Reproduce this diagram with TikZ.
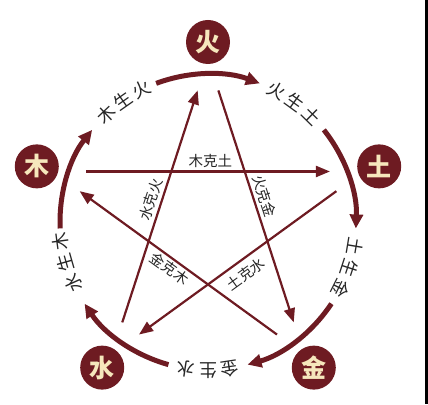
\documentclass[tikz,border=0pt]{standalone}
\usepackage{fontspec}
\newfontfamily\cjk{Noto Sans CJK SC}
\usetikzlibrary{arrows.meta,decorations.text}

\definecolor{wuxing}{HTML}{6E1B22}
\definecolor{cream}{HTML}{F6E7BC}
\newcommand\shengfont{\cjk\fontsize{18}{18}\selectfont}

\tikzset{
	element/.style={circle, fill=wuxing, minimum size=44pt, inner sep=0pt,
		text=cream, font=\cjk\bfseries\fontsize{25}{25}\selectfont},
	shengarc/.style={draw=wuxing, line width=5pt, -{Triangle[length=14pt,width=13pt]}},
	shengtext/.style={decorate, decoration={text along path, text align=center,
		raise=-6.5pt, text color=black!85}},
	kearrow/.style={draw=wuxing, line width=2.2pt, -{Triangle[length=14pt,width=11pt]}},
	kelabel/.style={font=\cjk\fontsize{14.5}{14.5}\selectfont, text=black!85, sloped, inner sep=2pt}
}

\begin{document}
\begin{tikzpicture}
	\useasboundingbox (-208pt,-182pt) rectangle (220pt,222pt);
	\fill[black] (217pt,-182pt) rectangle (220pt,222pt);

	% the five elements
	\node[element] (huo) at (90:180pt) {火};
	\node[element] (tu) at (18:180pt) {土};
	\node[element] (jin) at (-54:180pt) {金};
	\node[element] (shui) at (-126:180pt) {水};
	\node[element] (mu) at (162:180pt) {木};

	% generating cycle
	\draw[shengarc] (182.5:148pt) arc [start angle=182.5, end angle=141.5, radius=148pt];
	\draw[shengarc] (110.5:148pt) arc [start angle=110.5, end angle=69.5, radius=148pt];
	\draw[shengarc] (38.5:148pt) arc [start angle=38.5, end angle=-2.5, radius=148pt];
	\draw[shengarc] (-33.5:148pt) arc [start angle=-33.5, end angle=-74.5, radius=148pt];
	\draw[shengarc] (-105.5:148pt) arc [start angle=-105.5, end angle=-146.5, radius=148pt];

	\path[shengtext, decoration={text={|\shengfont|木\ 生\ 火}}] (143:148pt) arc [start angle=143, end angle=107, radius=148pt];
	\path[shengtext, decoration={text={|\shengfont|火\ 生\ 土}}] (72:148pt) arc [start angle=72, end angle=36, radius=148pt];
	\path[shengtext, decoration={text={|\shengfont|土\ 生\ 金}}] (0:148pt) arc [start angle=0, end angle=-36, radius=148pt];
	\path[shengtext, decoration={text={|\shengfont|金\ 生\ 水}}] (-72:148pt) arc [start angle=-72, end angle=-108, radius=148pt];
	\path[shengtext, decoration={text={|\shengfont|水\ 生\ 木}}] (-146:148pt) arc [start angle=-146, end angle=-182, radius=148pt];

	% overcoming cycle
	\coordinate (huo-in) at (94.5:132pt);
	\coordinate (huo-out) at (85.5:132pt);
	\coordinate (tu-in) at (22.5:132pt);
	\coordinate (tu-out) at (13.5:132pt);
	\coordinate (jin-in) at (-49.5:132pt);
	\coordinate (jin-out) at (-58.5:132pt);
	\coordinate (shui-in) at (-121.5:132pt);
	\coordinate (shui-out) at (-130.5:132pt);
	\coordinate (mu-in) at (166.5:132pt);
	\coordinate (mu-out) at (157.5:132pt);

	\draw[kearrow] (mu-out) -- node[kelabel, above=1pt, pos=.51] {木克土} (tu-in);
	\draw[kearrow] (tu-out) -- node[kelabel, below=4pt, pos=.50] {土克水} (shui-in);
	\draw[kearrow] (shui-out) -- node[kelabel, above=1pt, pos=.515] {水克火} (huo-in);
	\draw[kearrow] (huo-out) -- node[kelabel, above=1pt, pos=.47] {火克金} (jin-in);
	\draw[kearrow] (jin-out) -- node[kelabel, below=0pt, pos=.515] {金克木} (mu-in);
\end{tikzpicture}
\end{document}
